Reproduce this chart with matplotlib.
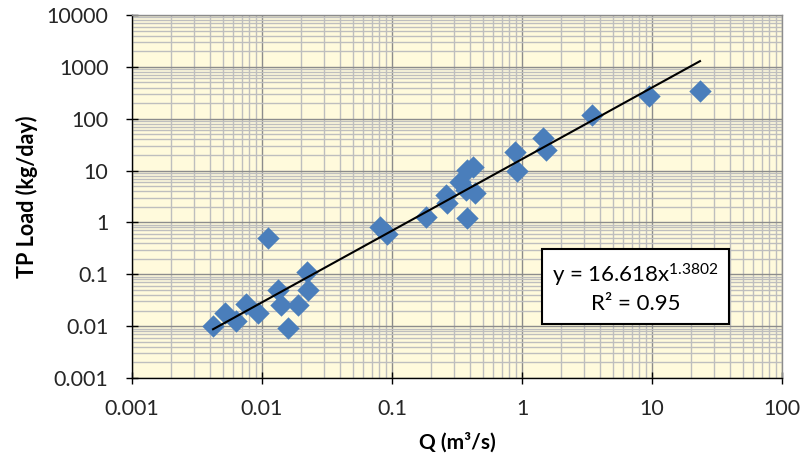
import numpy as np
import matplotlib
matplotlib.use('Agg')
import matplotlib.pyplot as plt
from matplotlib.ticker import FixedLocator, LogLocator, NullFormatter

plt.rcParams['font.family'] = ['Lato', 'DejaVu Sans']
plt.rcParams['mathtext.fontset'] = 'custom'
plt.rcParams['mathtext.rm'] = 'Lato'
plt.rcParams['mathtext.it'] = 'Lato'

# flow (m3/s) and TP load (kg/day)
q = [0.0042, 0.0052, 0.0063, 0.0075, 0.0093, 0.0111, 0.0133, 0.014, 0.0158,
     0.0189, 0.0226, 0.022, 0.081, 0.092, 0.183, 0.26, 0.265, 0.378, 0.333,
     0.378, 0.42, 0.435, 0.37, 0.883, 0.916, 1.45, 1.53, 3.45, 9.48, 23.4]
load = [0.0101, 0.0179, 0.0126, 0.0267, 0.0179, 0.50, 0.0498, 0.0256, 0.0092,
        0.0256, 0.0498, 0.111, 0.817, 0.598, 1.27, 3.38, 2.37, 1.22, 6.02,
        10.3, 11.7, 3.69, 4.2, 22.8, 9.8, 42.5, 24.9, 118, 274, 342]

# power trendline shown on the chart
coef_a, coef_b = 16.618, 1.3802
r2 = 0.95

x_ticks = [0.001, 0.01, 0.1, 1, 10, 100]
x_labels = ['0.001', '0.01', '0.1', '1', '10', '100']
y_ticks = [0.001, 0.01, 0.1, 1, 10, 100, 1000, 10000]
y_labels = ['0.001', '0.01', '0.1', '1', '10', '100', '1000', '10000']

fig = plt.figure(figsize=(8.07, 4.69), dpi=100)
ax = fig.add_axes([0.1636, 0.194, 0.8054, 0.774], facecolor='#FFFADC')

ax.set_xscale('log')
ax.set_yscale('log')
ax.set_xlim(0.001, 100)
ax.set_ylim(0.001, 10000)

ax.xaxis.set_major_locator(FixedLocator(x_ticks))
ax.yaxis.set_major_locator(FixedLocator(y_ticks))
ax.set_xticklabels(x_labels)
ax.set_yticklabels(y_labels)
ax.xaxis.set_minor_locator(LogLocator(base=10, subs=np.arange(2, 10)))
ax.yaxis.set_minor_locator(LogLocator(base=10, subs=np.arange(2, 10)))
ax.xaxis.set_minor_formatter(NullFormatter())
ax.yaxis.set_minor_formatter(NullFormatter())

ax.set_axisbelow(True)
ax.grid(which='minor', color='#BEBEBE', lw=1.0)
ax.grid(which='major', color='#8C8C8C', lw=1.0)

ax.tick_params(which='major', direction='inout', length=8, width=1,
               labelsize=15.5, color='black', labelcolor='#262626')
ax.tick_params(axis='x', which='major', pad=11)
ax.tick_params(axis='y', which='major', pad=13)
ax.tick_params(which='minor', length=0)

for side in ('top', 'right'):
    ax.spines[side].set_color('#8C8C8C')
    ax.spines[side].set_linewidth(1.0)
for side in ('left', 'bottom'):
    ax.spines[side].set_color('black')
    ax.spines[side].set_linewidth(1.0)

ax.scatter(q, load, marker='D', s=130, color='#4A7EBB', linewidths=0, zorder=3)

xt = np.geomspace(min(q), max(q), 50)
ax.plot(xt, coef_a * xt ** coef_b, color='black', lw=1.5, zorder=4)

ax.text(0.775, 0.248, 'y = %.3fx$^{%.4f}$\nR² = %.2f' % (coef_a, coef_b, r2),
        transform=ax.transAxes, ha='center', va='center', multialignment='center',
        fontsize=16, linespacing=1.3, zorder=5,
        bbox=dict(boxstyle='square,pad=0.45', facecolor='white', edgecolor='black', lw=1.5))

ax.set_xlabel('Q (m³/s)', fontsize=15, fontweight='bold', labelpad=10)
ax.set_ylabel('TP Load (kg/day)', fontsize=15.5, fontweight='bold', labelpad=6)

fig.savefig('out.png', dpi=100)
